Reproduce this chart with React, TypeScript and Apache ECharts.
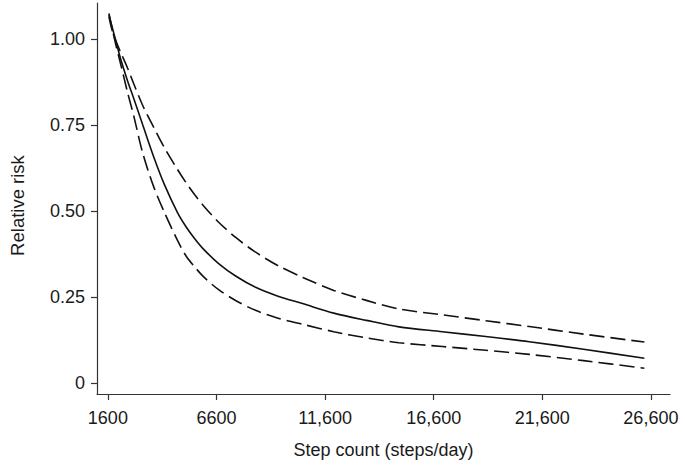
import React, { useEffect, useRef } from "react";
import * as echarts from "echarts";

const steps = [1650, 1800, 2000, 2200, 2500, 2800, 3200, 3700, 4200, 4800, 5200, 5600, 6000, 6700, 7500, 8400, 9400, 10600, 12000, 13500, 15000, 17000, 19000, 21000, 23500, 26300];
const relativeRisk = [1.07, 1.035, 0.987, 0.94, 0.88, 0.826, 0.752, 0.66, 0.578, 0.497, 0.455, 0.42, 0.39, 0.348, 0.311, 0.279, 0.254, 0.231, 0.204, 0.183, 0.164, 0.15, 0.136, 0.121, 0.099, 0.073];
const upperCI = [1.065, 1.025, 0.99, 0.96, 0.917, 0.869, 0.808, 0.745, 0.685, 0.622, 0.583, 0.548, 0.516, 0.468, 0.423, 0.381, 0.343, 0.307, 0.27, 0.241, 0.216, 0.199, 0.182, 0.165, 0.143, 0.12];
const lowerCI = [1.075, 1.03, 0.975, 0.925, 0.847, 0.775, 0.67, 0.573, 0.497, 0.416, 0.37, 0.338, 0.31, 0.272, 0.24, 0.212, 0.19, 0.171, 0.15, 0.132, 0.118, 0.107, 0.096, 0.084, 0.066, 0.044];

const xTickValues = [1600, 6600, 11600, 16600, 21600, 26600];
const xTickLabels = ["1600", "6600", "11,600", "16,600", "21,600", "26,600"];
const yTickValues = [0, 0.25, 0.5, 0.75, 1];
const yTickLabels = ["0", "0.25", "0.50", "0.75", "1.00"];

const FONT = "'Liberation Sans', Arial, Helvetica, sans-serif";
const TEXT = "#1a1a1a";
const AXIS = "#333333";
const LINE = "#111111";

function lookup(values: number[], labels: string[], v: number): string {
  const i = values.findIndex((t) => Math.abs(t - v) < 1e-6);
  return i >= 0 ? labels[i] : "";
}

export default function App() {
  const ref = useRef<HTMLDivElement>(null);
  useEffect(() => {
    const chart = echarts.init(ref.current as HTMLDivElement, null, { renderer: "svg" });
    const pair = (arr: number[]) => steps.map((s, i) => [s, arr[i]]);
    const lineSeries = (name: string, arr: number[], dashed: boolean) => ({
      name,
      type: "line",
      data: pair(arr),
      smooth: 0.3,
      symbol: "none",
      lineStyle: { color: LINE, width: 1.6, type: dashed ? [15, 6] : "solid" },
      z: 3,
    });
    chart.setOption({
      animation: false,
      backgroundColor: "#ffffff",
      grid: { left: 89, right: 15, top: 3, bottom: 71 },
      xAxis: {
        type: "value",
        min: 1100,
        max: 27480,
        name: "Step count (steps/day)",
        nameLocation: "middle",
        nameGap: 47,
        nameTextStyle: { fontFamily: FONT, fontSize: 18, color: TEXT },
        axisLine: { show: true, onZero: false, lineStyle: { color: AXIS, width: 1.2 } },
        axisTick: { show: true, length: 6, customValues: xTickValues, lineStyle: { color: AXIS, width: 1.2 } },
        axisLabel: {
          customValues: xTickValues,
          formatter: (v: number) => lookup(xTickValues, xTickLabels, v),
          margin: 15,
          fontFamily: FONT,
          fontSize: 18,
          color: TEXT,
        },
        splitLine: { show: false },
      },
      yAxis: {
        type: "value",
        min: -0.031,
        max: 1.105,
        name: "Relative risk",
        nameLocation: "middle",
        nameGap: 70,
        nameTextStyle: { fontFamily: FONT, fontSize: 18.5, color: TEXT, padding: [0, 14, 0, 0] },
        axisLine: { show: true, lineStyle: { color: AXIS, width: 1.2 } },
        axisTick: { show: true, length: 6, customValues: yTickValues, lineStyle: { color: AXIS, width: 1.2 } },
        axisLabel: {
          customValues: yTickValues,
          formatter: (v: number) => lookup(yTickValues, yTickLabels, v),
          margin: 12,
          fontFamily: FONT,
          fontSize: 18,
          color: TEXT,
        },
        splitLine: { show: false },
      },
      series: [
        lineSeries("Relative risk", relativeRisk, false),
        lineSeries("Upper 95% CI", upperCI, true),
        lineSeries("Lower 95% CI", lowerCI, true),
      ],
    });
    return () => chart.dispose();
  }, []);
  return <div ref={ref} style={{ position: "fixed", left: 0, top: 0, width: 685, height: 465 }} />;
}
